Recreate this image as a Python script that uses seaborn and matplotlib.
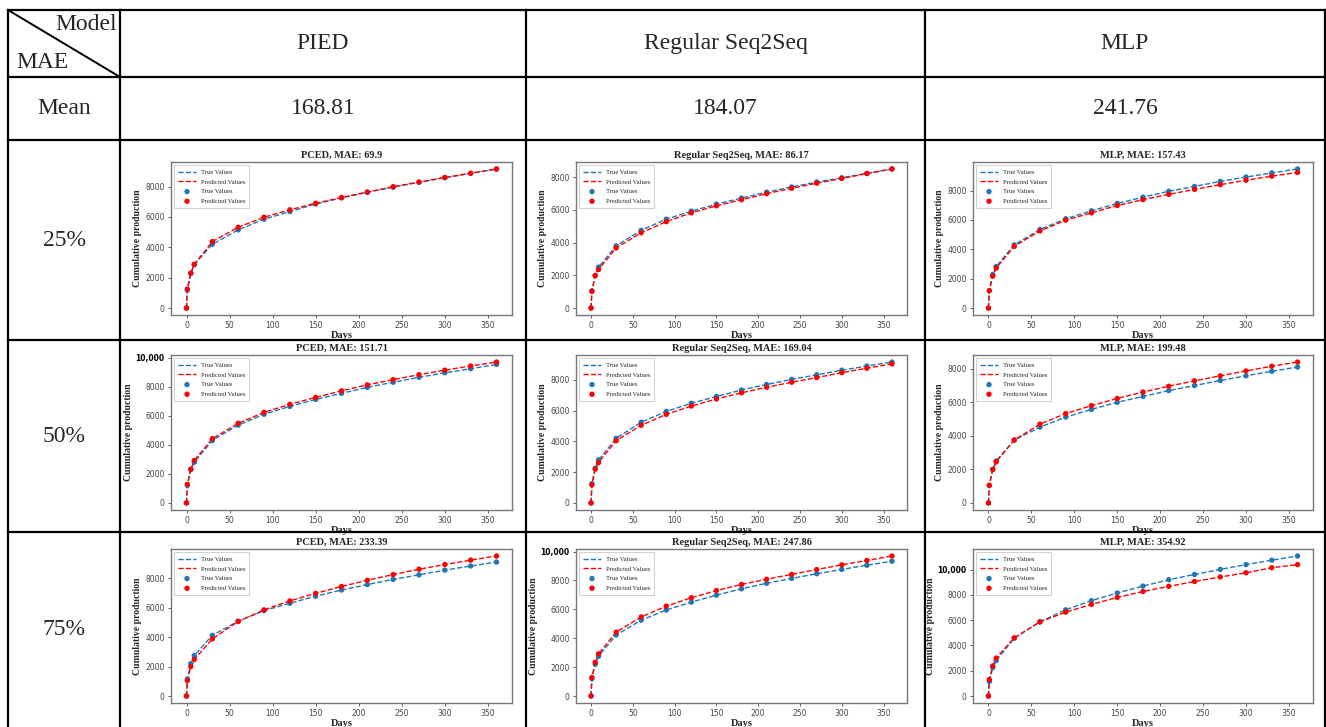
import matplotlib
matplotlib.use("Agg")
import matplotlib.pyplot as plt
import seaborn as sns
from matplotlib.lines import Line2D

# ---------------- data ----------------
days = [0, 1, 5, 9, 30, 60, 90, 120, 150, 180, 210, 240, 270, 300, 330, 360]

models = ["PIED", "Regular Seq2Seq", "MLP"]
mean_mae = ["168.81", "184.07", "241.76"]
row_labels = ["25%", "50%", "75%"]

titles = [
    ["PCED, MAE: 69.9", "Regular Seq2Seq, MAE: 86.17", "MLP, MAE: 157.43"],
    ["PCED, MAE: 151.71", "Regular Seq2Seq, MAE: 169.04", "MLP, MAE: 199.48"],
    ["PCED, MAE: 233.39", "Regular Seq2Seq, MAE: 247.86", "MLP, MAE: 354.92"],
]

true_pced_25 = [0, 1180, 2280, 2850, 4200, 5150, 5850, 6350, 6850, 7250, 7620, 7960, 8280, 8580, 8870, 9150]
pred_pced_25 = [0, 1250, 2300, 2880, 4380, 5320, 5980, 6470, 6900, 7280, 7640, 7990, 8300, 8600, 8880, 9160]
true_s2s_25 = [0, 1050, 2000, 2500, 3800, 4750, 5430, 5920, 6350, 6720, 7080, 7400, 7700, 7960, 8230, 8500]
pred_s2s_25 = [0, 1020, 1980, 2350, 3670, 4600, 5280, 5820, 6250, 6620, 6990, 7320, 7630, 7920, 8220, 8500]
true_mlp_25 = [0, 1180, 2280, 2830, 4300, 5350, 6080, 6620, 7120, 7550, 7950, 8280, 8620, 8920, 9200, 9470]
pred_mlp_25 = [0, 1180, 2180, 2720, 4200, 5250, 5980, 6480, 6980, 7380, 7740, 8080, 8400, 8700, 8980, 9230]

true_pced_50 = [0, 1200, 2300, 2800, 4300, 5350, 6100, 6640, 7120, 7540, 7950, 8300, 8640, 8950, 9230, 9530]
pred_pced_50 = [0, 1280, 2320, 2920, 4420, 5480, 6230, 6780, 7260, 7710, 8120, 8480, 8820, 9130, 9420, 9690]
true_s2s_50 = [0, 1250, 2250, 2800, 4200, 5250, 5950, 6480, 6920, 7340, 7700, 8030, 8330, 8630, 8900, 9160]
pred_s2s_50 = [0, 1180, 2200, 2620, 4050, 5050, 5760, 6300, 6760, 7160, 7520, 7850, 8150, 8470, 8760, 9040]
true_mlp_50 = [0, 1050, 2000, 2500, 3750, 4520, 5120, 5580, 6000, 6350, 6700, 7000, 7300, 7580, 7850, 8100]
pred_mlp_50 = [0, 1050, 2000, 2450, 3750, 4700, 5330, 5800, 6230, 6610, 6960, 7280, 7580, 7870, 8150, 8400]

true_pced_75 = [0, 1150, 2200, 2750, 4120, 5080, 5800, 6300, 6780, 7200, 7570, 7920, 8230, 8550, 8830, 9100]
pred_pced_75 = [0, 1050, 2000, 2480, 3880, 5060, 5850, 6460, 6970, 7440, 7860, 8250, 8610, 8930, 9230, 9510]
true_s2s_75 = [0, 1200, 2200, 2750, 4220, 5250, 5950, 6500, 6980, 7420, 7800, 8140, 8460, 8760, 9050, 9330]
pred_s2s_75 = [0, 1280, 2330, 2920, 4420, 5470, 6220, 6800, 7300, 7720, 8080, 8420, 8750, 9080, 9380, 9690]
true_mlp_75 = [0, 1150, 2250, 2800, 4580, 5880, 6820, 7550, 8150, 8700, 9200, 9620, 10020, 10400, 10750, 11080]
pred_mlp_75 = [0, 1300, 2380, 3000, 4600, 5860, 6640, 7250, 7800, 8270, 8680, 9060, 9420, 9750, 10150, 10400]

series = [
    [(true_pced_25, pred_pced_25), (true_s2s_25, pred_s2s_25), (true_mlp_25, pred_mlp_25)],
    [(true_pced_50, pred_pced_50), (true_s2s_50, pred_s2s_50), (true_mlp_50, pred_mlp_50)],
    [(true_pced_75, pred_pced_75), (true_s2s_75, pred_s2s_75), (true_mlp_75, pred_mlp_75)],
]

# ---------------- style ----------------
sns.set_style("ticks")
plt.rcParams["font.family"] = ["DejaVu Sans"]
SERIF = "Liberation Serif"
BLUE = "#1f77b4"
RED = "#ff0000"

W, H = 1326, 727
fig = plt.figure(figsize=(W / 100, H / 100), dpi=100)
fig.patch.set_facecolor("white")


def fx(x):
    return x / W


def fy(y):
    return 1 - y / H


def hline(x0, x1, y, lw=1.6):
    fig.add_artist(Line2D([fx(x0), fx(x1)], [fy(y), fy(y)], transform=fig.transFigure,
                          color="black", lw=lw, solid_capstyle="projecting"))


def vline(x, y0, y1, lw=1.6):
    fig.add_artist(Line2D([fx(x), fx(x)], [fy(y0), fy(y1)], transform=fig.transFigure,
                          color="black", lw=lw, solid_capstyle="projecting"))


# table geometry (pixels)
col_x = [8, 120, 526, 925, 1325]
row_y = [10, 77, 140, 340, 532, 727]

for y in row_y[:-1]:
    hline(col_x[0], col_x[-1], y)
for x in col_x:
    vline(x, row_y[0], row_y[-1])
# diagonal in corner cell
fig.add_artist(Line2D([fx(col_x[0]), fx(col_x[1])], [fy(row_y[0]), fy(row_y[1])],
                      transform=fig.transFigure, color="black", lw=1.4))

TFS = 17
fig.text(fx(117), fy(24), "Model", ha="right", va="center", family=SERIF, fontsize=TFS)
fig.text(fx(16), fy(63), "MAE", ha="left", va="center", family=SERIF, fontsize=TFS)

for j, m in enumerate(models):
    cx = (col_x[j + 1] + col_x[j + 2]) / 2
    fig.text(fx(cx), fy((row_y[0] + row_y[1]) / 2), m, ha="center", va="center",
             family=SERIF, fontsize=TFS)
    fig.text(fx(cx), fy((row_y[1] + row_y[2]) / 2), mean_mae[j], ha="center", va="center",
             family=SERIF, fontsize=TFS)

fig.text(fx((col_x[0] + col_x[1]) / 2), fy((row_y[1] + row_y[2]) / 2), "Mean",
         ha="center", va="center", family=SERIF, fontsize=TFS)
for i, lab in enumerate(row_labels):
    fig.text(fx((col_x[0] + col_x[1]) / 2), fy((row_y[i + 2] + row_y[i + 3]) / 2), lab,
             ha="center", va="center", family=SERIF, fontsize=TFS)

# axes placement inside cells (pixels)
ax_cols = [(171, 512), (576, 907), (973, 1313)]
ax_rows = [(162, 315), (355, 510), (549, 703)]

for i in range(3):
    for j in range(3):
        x0, x1 = ax_cols[j]
        y0, y1 = ax_rows[i]
        ax = fig.add_axes([fx(x0), fy(y1), (x1 - x0) / W, (y1 - y0) / H])
        tv, pv = series[i][j]
        sns.lineplot(x=days, y=tv, ax=ax, color=BLUE, linestyle="--", lw=1.0, label="True Values")
        sns.lineplot(x=days, y=pv, ax=ax, color=RED, linestyle="--", lw=1.0, label="Predicted Values")
        sns.scatterplot(x=days, y=tv, ax=ax, color=BLUE, s=15, edgecolor="none",
                        label="True Values", zorder=3)
        sns.scatterplot(x=days, y=pv, ax=ax, color=RED, s=15, edgecolor="none",
                        label="Predicted Values", zorder=4)
        ax.set_title(titles[i][j], fontsize=7.5, fontweight="bold", family=SERIF, pad=3)
        ax.set_xlabel("Days", fontsize=7.5, fontweight="bold", family=SERIF, labelpad=0.5)
        ax.set_ylabel("Cumulative production", fontsize=7, fontweight="bold", family=SERIF, labelpad=2)
        ax.set_xticks([0, 50, 100, 150, 200, 250, 300, 350])
        ax.tick_params(labelsize=5.5, length=2.5, width=0.6, colors="#444444", pad=2)
        for sp in ax.spines.values():
            sp.set_color("#777777")
            sp.set_linewidth(1.0)
        ylim = ax.get_ylim()
        yt = [t for t in ax.get_yticks() if ylim[0] <= t <= ylim[1]]
        ax.set_yticks(yt)
        labs = ["10,000" if t == 10000 else f"{int(t)}" for t in yt]
        ax.set_yticklabels(labs)
        ax.set_ylim(ylim)
        for t, tl in zip(yt, ax.get_yticklabels()):
            if t == 10000:
                tl.set_fontweight("bold")
                tl.set_color("black")
        leg = ax.legend(loc="upper left", prop={"family": SERIF, "size": 4.8},
                        frameon=True, handlelength=2.6, borderpad=0.6, labelspacing=0.6,
                        fancybox=False, markerscale=1.0)
        leg.get_frame().set_edgecolor("#bbbbbb")
        leg.get_frame().set_linewidth(0.6)

fig.savefig("out.png", dpi=100, facecolor="white")
